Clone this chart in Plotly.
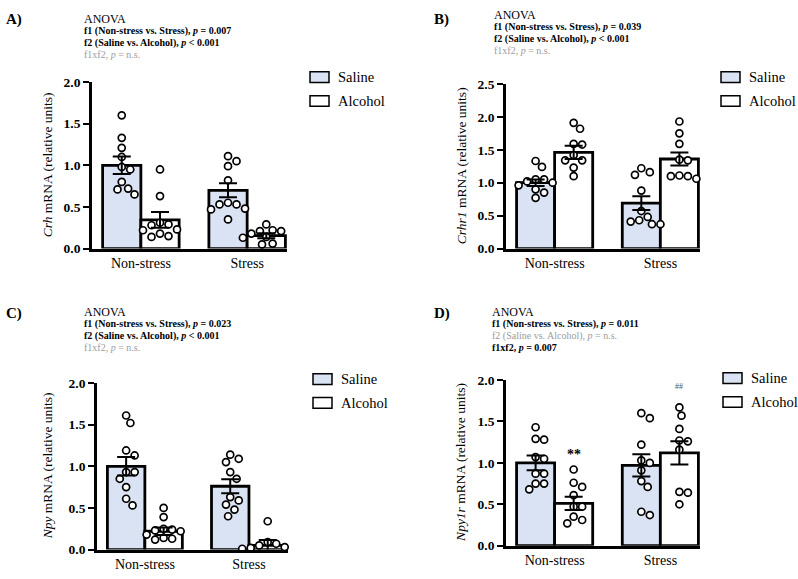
import plotly.graph_objects as go

W, H = 798, 579
SERIF = "Liberation Serif, Times New Roman, serif"
BLUE = "#dae3f3"
GRAY = "#9c9c9c"

groups = ["Non-stress", "Stress"]
treatments = ["Saline", "Alcohol"]

# A) Crh
crh_sal_ns = [1.60, 1.33, 1.21, 1.10, 0.98, 0.95, 0.80, 0.72, 0.71, 0.65]
crh_alc_ns = [0.95, 0.63, 0.31, 0.29, 0.28, 0.23, 0.22, 0.18, 0.15, 0.14]
crh_sal_st = [1.11, 1.05, 0.99, 0.82, 0.55, 0.53, 0.53, 0.48, 0.47, 0.35]
crh_alc_st = [0.29, 0.22, 0.21, 0.21, 0.18, 0.15, 0.14, 0.13, 0.06, 0.05]
crh_sal_mean = [1.00, 0.70]
crh_sal_sem = [0.105, 0.085]
crh_alc_mean = [0.345, 0.155]
crh_alc_sem = [0.095, 0.03]

# B) Crhr1
crhr1_sal_ns = [1.33, 1.24, 1.05, 1.05, 1.02, 1.00, 0.96, 0.90, 0.85, 0.77]
crhr1_alc_ns = [1.91, 1.82, 1.59, 1.58, 1.42, 1.34, 1.34, 1.23, 1.10]
crhr1_sal_st = [1.22, 1.16, 1.12, 0.88, 0.57, 0.48, 0.43, 0.41, 0.37, 0.37]
crhr1_alc_st = [1.93, 1.75, 1.59, 1.35, 1.34, 1.11, 1.10, 1.10, 1.06]
crhr1_sal_mean = [1.00, 0.69]
crhr1_sal_sem = [0.05, 0.105]
crhr1_alc_mean = [1.46, 1.36]
crhr1_alc_sem = [0.10, 0.10]

# C) Npy
npy_sal_ns = [1.61, 1.52, 1.19, 1.13, 0.93, 0.93, 0.85, 0.75, 0.61, 0.53]
npy_alc_ns = [0.50, 0.39, 0.25, 0.24, 0.23, 0.22, 0.18, 0.14, 0.13, 0.12]
npy_sal_st = [1.14, 1.09, 1.05, 0.93, 0.85, 0.63, 0.59, 0.54, 0.48, 0.40]
npy_alc_st = [0.34, 0.09, 0.07, 0.05, 0.03, 0.02, 0.01, 0.01, 0.01]
npy_sal_mean = [1.00, 0.76]
npy_sal_sem = [0.11, 0.085]
npy_alc_mean = [0.22, 0.05]
npy_alc_sem = [0.045, 0.065]

# D) Npy1r
npy1r_sal_ns = [1.43, 1.29, 1.28, 1.07, 1.05, 0.87, 0.87, 0.75, 0.75, 0.68]
npy1r_alc_ns = [0.92, 0.76, 0.71, 0.61, 0.47, 0.47, 0.35, 0.31, 0.27]
npy1r_sal_st = [1.60, 1.54, 1.22, 1.03, 1.00, 0.91, 0.78, 0.71, 0.41, 0.37]
npy1r_alc_st = [1.67, 1.57, 1.41, 1.27, 1.26, 1.16, 0.65, 0.64, 0.50]
npy1r_sal_mean = [1.00, 0.97]
npy1r_sal_sem = [0.09, 0.135]
npy1r_alc_mean = [0.51, 1.12]
npy1r_alc_sem = [0.08, 0.14]

XR = [0.54, 2.375]
BW = 0.36
DOT = 8.5


def px(x, y):
    return x / W, 1 - y / H


def swarm(values, px_x, px_y):
    # simple beeswarm so that the dots don't sit on top of each other
    placed = []
    offs = [0.0] * len(values)
    order = sorted(range(len(values)), key=lambda i: -values[i])
    step = DOT / 4
    for i in order:
        yp = values[i] * px_y
        k = 0
        while True:
            cands = [0.0] if k == 0 else [k * step, -k * step]
            done = False
            for c in cands:
                if all((c - a) ** 2 + (yp - b) ** 2 >= DOT ** 2 for a, b in placed):
                    offs[i] = c
                    placed.append((c, yp))
                    done = True
                    break
            if done:
                break
            k += 1
    return [o / px_x for o in offs]


fig = go.Figure()
annotations = []
shapes = []

panels = [
    dict(letter="A)", gene="Crh", box=(92, 287, 77, 248), ymax=2.0,
         pts=[crh_sal_ns, crh_alc_ns, crh_sal_st, crh_alc_st],
         sm=crh_sal_mean, ss=crh_sal_sem, am=crh_alc_mean, asem=crh_alc_sem,
         head=(82, 12), lead=(4, 13), leg=(310, 72), title_x=47,
         lines=[("f1 (Non-stress vs. Stress), <i>p</i> = 0.007", True),
                ("f2 (Saline vs. Alcohol), <i>p</i> < 0.001", True),
                ("f1xf2, <i>p</i> = n.s.", False)]),
    dict(letter="B)", gene="Crhr1", box=(506, 700, 79, 248), ymax=2.5,
         pts=[crhr1_sal_ns, crhr1_alc_ns, crhr1_sal_st, crhr1_alc_st],
         sm=crhr1_sal_mean, ss=crhr1_sal_sem, am=crhr1_alc_mean, asem=crhr1_alc_sem,
         head=(492, 8), lead=(432, 13), leg=(721, 72), title_x=461,
         lines=[("f1 (Non-stress vs. Stress), <i>p</i> = 0.039", True),
                ("f2 (Saline vs. Alcohol), <i>p</i> < 0.001", True),
                ("f1xf2, <i>p</i> = n.s.", False)]),
    dict(letter="C)", gene="Npy", box=(97, 288, 386, 557), ymax=2.0,
         pts=[npy_sal_ns, npy_alc_ns, npy_sal_st, npy_alc_st],
         sm=npy_sal_mean, ss=npy_sal_sem, am=npy_alc_mean, asem=npy_alc_sem,
         head=(82, 313), lead=(4, 315), leg=(313, 382), title_x=47,
         lines=[("f1 (Non-stress vs. Stress), <i>p</i> = 0.023", True),
                ("f2 (Saline vs. Alcohol), <i>p</i> < 0.001", True),
                ("f1xf2, <i>p</i> = n.s.", False)]),
    dict(letter="D)", gene="Npy1r", box=(506, 700, 383, 553), ymax=2.0,
         pts=[npy1r_sal_ns, npy1r_alc_ns, npy1r_sal_st, npy1r_alc_st],
         sm=npy1r_sal_mean, ss=npy1r_sal_sem, am=npy1r_alc_mean, asem=npy1r_alc_sem,
         head=(490, 313), lead=(432, 315), leg=(723, 381), title_x=461,
         lines=[("f1 (Non-stress vs. Stress), <i>p</i> = 0.011", True),
                ("f2 (Saline vs. Alcohol), <i>p</i> = n.s.", False),
                ("f1xf2, <i>p</i> = 0.007", True)]),
]

layout_axes = {}
for n, p in enumerate(panels, start=1):
    x0, x1, y0, y1 = p["box"]
    xa, ya = f"x{n}", f"y{n}"
    px_x = (x1 - x0) / (XR[1] - XR[0])
    px_y = (y1 - y0) / p["ymax"]

    sal_x = [g + 1 - BW / 2 for g in range(2)]
    alc_x = [g + 1 + BW / 2 for g in range(2)]

    fig.add_trace(go.Bar(x=sal_x, y=p["sm"], width=BW, xaxis=xa, yaxis=ya,
                         marker=dict(color=BLUE, line=dict(color="black", width=2.8))))
    fig.add_trace(go.Bar(x=alc_x, y=p["am"], width=BW, xaxis=xa, yaxis=ya,
                         marker=dict(color="white", line=dict(color="black", width=2.8))))

    centers = [sal_x[0], alc_x[0], sal_x[1], alc_x[1]]
    for c, vals in zip(centers, p["pts"]):
        offs = swarm(vals, px_x, px_y)
        fig.add_trace(go.Scatter(
            x=[c + o for o in offs], y=vals, mode="markers", xaxis=xa, yaxis=ya,
            cliponaxis=False,
            marker=dict(symbol="circle", size=7, color="white",
                        line=dict(color="black", width=1.7))))

    # mean +/- SEM drawn over the dots
    fig.add_trace(go.Scatter(
        x=sal_x + alc_x, y=p["sm"] + p["am"], mode="markers", xaxis=xa, yaxis=ya,
        marker=dict(size=1, color="rgba(0,0,0,0)"),
        error_y=dict(type="data", array=p["ss"] + p["asem"], color="black",
                     thickness=2, width=9)))

    layout_axes[f"xaxis{n}"] = dict(
        domain=[x0 / W, x1 / W], anchor=ya, range=XR, showgrid=False, zeroline=False,
        showline=True, linecolor="black", linewidth=2.8, ticks="",
        tickvals=[1, 2], ticktext=groups,
        tickfont=dict(family=SERIF, size=14, color="black"))
    layout_axes[f"yaxis{n}"] = dict(
        domain=[1 - y1 / H, 1 - y0 / H], anchor=xa, range=[0, p["ymax"]],
        dtick=0.5, tickformat=".1f", showgrid=False, zeroline=False,
        showline=True, linecolor="black", linewidth=2.8,
        ticks="outside", ticklen=6, tickwidth=2, tickcolor="black",
        tickfont=dict(family=SERIF, size=13.5, color="black", weight="bold"))

    # y title
    tx, ty = px(p["title_x"], (y0 + y1) / 2)
    annotations.append(dict(
        x=tx, y=ty, xref="paper", yref="paper", textangle=-90, showarrow=False,
        xanchor="center", yanchor="middle",
        text=f"<i>{p['gene']}</i> mRNA (relative units)",
        font=dict(family=SERIF, size=13.5, color="black")))

    # panel letter
    lx, ly = px(*p["lead"])
    annotations.append(dict(
        x=lx, y=ly, xref="paper", yref="paper", xanchor="left", yanchor="middle",
        showarrow=False, text=f"<b>{p['letter']}</b>",
        font=dict(family=SERIF, size=15, color="black")))

    # ANOVA header
    hx, hy = p["head"]
    annotations.append(dict(
        x=hx / W, y=1 - hy / H, xref="paper", yref="paper", xanchor="left",
        yanchor="middle", showarrow=False, text="ANOVA",
        font=dict(family=SERIF, size=12, color="black")))
    for k, (txt, sig) in enumerate(p["lines"]):
        annotations.append(dict(
            x=hx / W, y=1 - (hy + 12.3 * (k + 1)) / H, xref="paper", yref="paper",
            xanchor="left", yanchor="middle", showarrow=False,
            text=f"<b>{txt}</b>" if sig else txt,
            font=dict(family=SERIF, size=10, color="black" if sig else GRAY)))

    # legend
    gx, gy = p["leg"]
    for k, (name, col) in enumerate(zip(treatments, [BLUE, "white"])):
        cy = gy + 24.5 * k
        shapes.append(dict(type="rect", xref="paper", yref="paper",
                           x0=gx / W, x1=(gx + 19) / W,
                           y0=1 - (cy + 5.5) / H, y1=1 - (cy - 5.5) / H,
                           fillcolor=col, line=dict(color="black", width=1.5)))
        annotations.append(dict(
            x=(gx + 26) / W, y=1 - cy / H, xref="paper", yref="paper",
            xanchor="left", yanchor="middle", showarrow=False, text=name,
            font=dict(family=SERIF, size=14.5, color="black")))

# significance marks on D
annotations.append(dict(x=1 + BW / 2, y=0.99, xref="x4", yref="y4", showarrow=False,
                        yanchor="bottom", text="<b>**</b>",
                        font=dict(family=SERIF, size=14, color="black")))
annotations.append(dict(x=2 + BW / 2, y=1.84, xref="x4", yref="y4", showarrow=False,
                        yanchor="bottom", text="##",
                        font=dict(family=SERIF, size=8, color="#555555")))

fig.update_layout(
    width=W, height=H, margin=dict(l=0, r=0, t=0, b=0),
    paper_bgcolor="white", plot_bgcolor="white",
    barmode="overlay", showlegend=False,
    annotations=annotations, shapes=shapes,
    **layout_axes)

fig.write_html("out.html",
               config={"displayModeBar": False},
               post_script="document.body.style.margin='0';"
                           "document.body.style.overflow='hidden';")
